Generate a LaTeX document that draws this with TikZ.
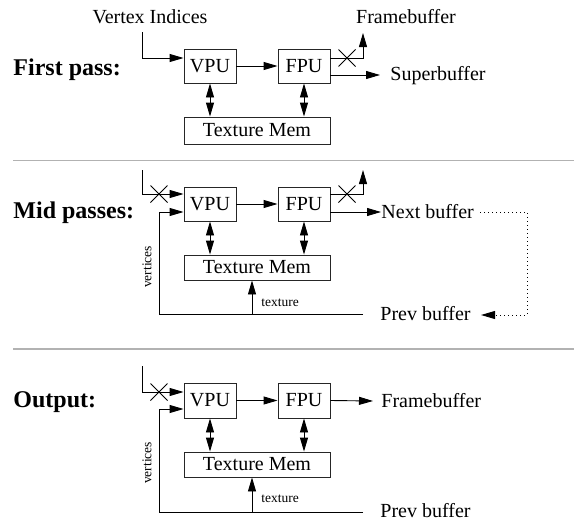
\documentclass[tikz,border=0pt]{standalone}
\usepackage{fontspec}
\setmainfont{Liberation Serif}
\usetikzlibrary{arrows.meta,calc}
\begin{document}
\begin{tikzpicture}[x=1pt,y=-1pt,
  line width=0.9pt,
  box/.style={draw=black!85, line width=0.9pt, minimum width=52pt, minimum height=34pt, inner sep=0pt, font=\fontsize{20}{24}\selectfont},
  texbox/.style={draw=black!85, line width=0.9pt, minimum width=146pt, minimum height=26pt, inner sep=0pt, font=\fontsize{20}{24}\selectfont},
  lbl/.style={font=\fontsize{20}{24}\selectfont, inner sep=0pt},
  small/.style={font=\fontsize{13.5}{16}\selectfont, inner sep=0pt},
  title/.style={font=\fontsize{24}{28}\selectfont\bfseries, inner sep=0pt, anchor=west},
  arr/.style={-{Triangle[length=14pt,width=8pt]}},
  darr/.style={{Triangle[length=14pt,width=8pt]}-{Triangle[length=14pt,width=8pt]}},
  sep/.style={draw=black!30, line width=1.4pt},
  xmark/.style={line width=1pt},
  dots/.style={dash pattern=on 1pt off 3pt, line width=0.9pt}
]
\useasboundingbox (0,0) rectangle (574,525);

% separators
\coordinate (s1a) at (13,160.5); \coordinate (s1b) at (574,160.5);
\coordinate (s2a) at (13,349); \coordinate (s2b) at (574,349);
\draw[sep] (s1a) -- (s1b);
\draw[sep] (s2a) -- (s2b);

% ---------------- First pass ----------------
\node[title] (t1) at (13,70) {First pass:};
\node[lbl] (vi) at (150,17) {Vertex Indices};
\node[box] (vpu1) at (210,66) {VPU};
\node[box] (fpu1) at (304,66) {FPU};
\node[texbox, minimum height=27pt] (tex1) at (257,130.5) {Texture Mem};
\node[lbl] (fb1) at (406,17) {Framebuffer};
\node[lbl, anchor=west] (sb1) at (390,76) {Superbuffer};

\coordinate (in1) at (142,32);
\draw[arr] (in1) |- ($(vpu1.west)+(0,-8)$);
\draw[arr] (vpu1.east) -- (fpu1.west);
\draw[darr] (vpu1.south) -- (vpu1.south |- tex1.north);
\draw[darr] (fpu1.south) -- (fpu1.south |- tex1.north);
\coordinate (fbup1) at (363,33);
\draw[arr] ($(fpu1.east)+(0,-8)$) -| (fbup1);
\coordinate (sbend) at (380,75);
\draw[arr] ($(fpu1.east)+(0,9)$) -- (sbend);
\coordinate (x1) at (347,58);
\draw[xmark] ($(x1)+(-8.5,-8.5)$) -- ($(x1)+(8.5,8.5)$);
\draw[xmark] ($(x1)+(-8.5,8.5)$) -- ($(x1)+(8.5,-8.5)$);

% ---------------- Mid passes ----------------
\node[title] (t2) at (13,213) {Mid passes:};
\node[box] (vpu2) at (210,204) {VPU};
\node[box] (fpu2) at (304,204) {FPU};
\node[texbox, minimum height=25pt] (tex2) at (257,267.5) {Texture Mem};
\node[lbl, anchor=west] (nb2) at (381,212) {Next buffer};
\node[lbl, anchor=west] (pb2) at (380,314) {Prev buffer};
\node[small] (tx2) at (280,303) {texture};
\node[small, rotate=90] (vx2) at (147,267) {vertices};

\coordinate (in2) at (142,170);
\draw[arr] (in2) |- ($(vpu2.west)+(0,-10)$);
\coordinate (x2a) at (159,194);
\draw[xmark] ($(x2a)+(-8.5,-8.5)$) -- ($(x2a)+(8.5,8.5)$);
\draw[xmark] ($(x2a)+(-8.5,8.5)$) -- ($(x2a)+(8.5,-8.5)$);
\draw[arr] (vpu2.east) -- (fpu2.west);
\draw[darr] (vpu2.south) -- (vpu2.south |- tex2.north);
\draw[darr] (fpu2.south) -- (fpu2.south |- tex2.north);
\coordinate (fbup2) at (363,170);
\draw[arr] ($(fpu2.east)+(0,-10)$) -| (fbup2);
\coordinate (x2b) at (347,194);
\draw[xmark] ($(x2b)+(-8.5,-8.5)$) -- ($(x2b)+(8.5,8.5)$);
\draw[xmark] ($(x2b)+(-8.5,8.5)$) -- ($(x2b)+(8.5,-8.5)$);
\draw[arr] ($(fpu2.east)+(0,8)$) -- (nb2.west);
% dotted loop
\coordinate (d2a) at (527,212);
\coordinate (d2b) at (527,315);
\draw[dots, arr] ($(nb2.east)+(6,0)$) -- (d2a) -- (d2b) -- ($(pb2.east)+(10,1)$);
% feedback
\coordinate (pe2) at (363,314);
\coordinate (c2) at (159,314);
\coordinate (tt2) at (252,314);
\draw[arr] (pe2) -- (c2) |- ($(vpu2.west)+(0,8)$);
\draw[arr] (tt2) -- (tt2 |- tex2.south);

% ---------------- Output ----------------
\node[title] (t3) at (13,402) {Output:};
\node[box, minimum height=35pt] (vpu3) at (210,400.5) {VPU};
\node[box, minimum height=35pt] (fpu3) at (304,400.5) {FPU};
\node[texbox, minimum height=25pt] (tex3) at (257,464.5) {Texture Mem};
\node[lbl, anchor=west] (fb3) at (381,401) {Framebuffer};
\node[lbl, anchor=west] (pb3) at (380,511) {Prev buffer};
\node[small] (tx3) at (280,499) {texture};
\node[small, rotate=90] (vx3) at (147,463) {vertices};

\coordinate (in3) at (142,366);
\draw[arr] (in3) |- ($(vpu3.west)+(0,-8.5)$);
\coordinate (x3a) at (159,392);
\draw[xmark] ($(x3a)+(-8.5,-8.5)$) -- ($(x3a)+(8.5,8.5)$);
\draw[xmark] ($(x3a)+(-8.5,8.5)$) -- ($(x3a)+(8.5,-8.5)$);
\draw[arr] (vpu3.east) -- (fpu3.west);
\draw[darr] (vpu3.south) -- (vpu3.south |- tex3.north);
\draw[darr] (fpu3.south) -- (fpu3.south |- tex3.north);
\draw[arr] (fpu3.east) -- ($(fb3.west)+(-8,0)$);
\coordinate (pe3) at (363,512);
\coordinate (c3) at (159,512);
\coordinate (tt3) at (252,512);
\draw[arr] (pe3) -- (c3) |- ($(vpu3.west)+(0,8.5)$);
\draw[arr] (tt3) -- (tt3 |- tex3.south);
\end{tikzpicture}
\end{document}
